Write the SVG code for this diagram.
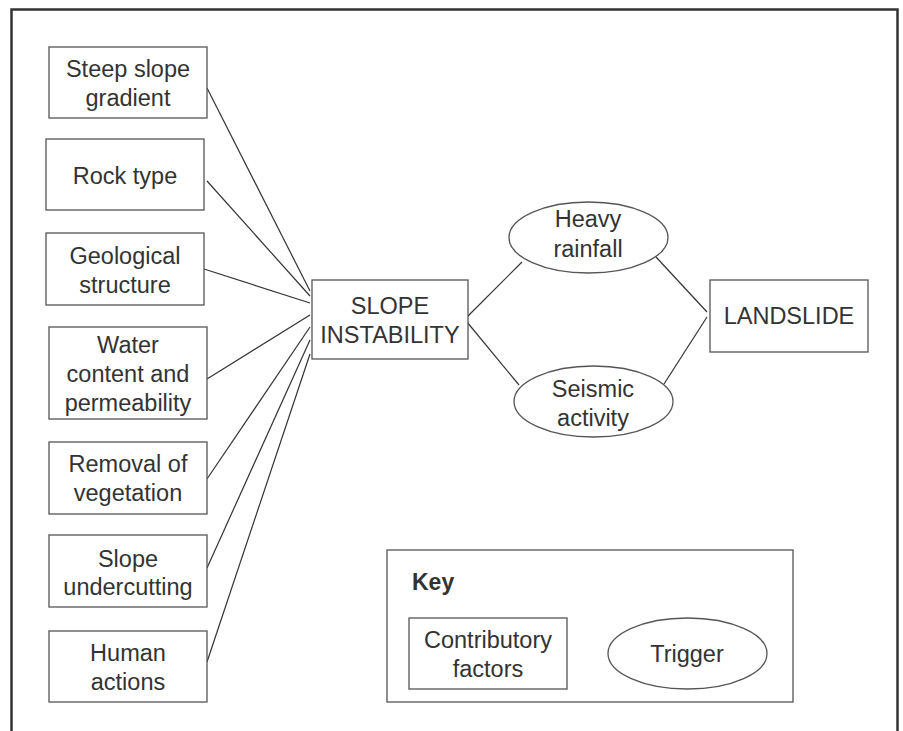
<svg xmlns="http://www.w3.org/2000/svg" width="903" height="731" viewBox="0 0 903 731">
<style>
.box{fill:#fff;stroke:#555;stroke-width:1.3}
.t{font-family:"Liberation Sans",Arial,sans-serif;font-size:23.5px;fill:#333;text-anchor:middle}
.k{font-family:"Liberation Sans",Arial,sans-serif;font-size:23px;font-weight:bold;fill:#333}
.c{stroke:#333;stroke-width:1.2;fill:none}
</style>
<rect width="903" height="731" fill="#fff"/>
<path d="M11.5,731 V9.5 H897.5 V731" fill="none" stroke="#333" stroke-width="2.5"/>
<g id="connectors">
<line class="c" x1="207" y1="88" x2="310" y2="291"/>
<line class="c" x1="207" y1="181" x2="310" y2="296"/>
<line class="c" x1="204" y1="269" x2="310" y2="303"/>
<line class="c" x1="207" y1="379" x2="310" y2="315"/>
<line class="c" x1="207" y1="479" x2="310" y2="327"/>
<line class="c" x1="207" y1="568" x2="310" y2="340"/>
<line class="c" x1="207" y1="662" x2="310" y2="354"/>
<line class="c" x1="467" y1="317" x2="522" y2="262"/>
<line class="c" x1="467" y1="322" x2="519" y2="385"/>
<line class="c" x1="656" y1="257" x2="707" y2="312"/>
<line class="c" x1="664" y1="384" x2="707" y2="317"/>
</g>
<g id="steep">
<rect class="box" x="49" y="47" width="158" height="71"/>
<text class="t" x="128" y="77">Steep slope</text>
<text class="t" x="128" y="106">gradient</text>
</g>
<g id="rock">
<rect class="box" x="46" y="139" width="158" height="71"/>
<text class="t" x="125" y="184">Rock type</text>
</g>
<g id="geological">
<rect class="box" x="46" y="233" width="158" height="72"/>
<text class="t" x="125" y="264">Geological</text>
<text class="t" x="125" y="293">structure</text>
</g>
<g id="water">
<rect class="box" x="49" y="327" width="158" height="92"/>
<text class="t" x="128" y="353">Water</text>
<text class="t" x="128" y="382">content and</text>
<text class="t" x="128" y="411">permeability</text>
</g>
<g id="removal">
<rect class="box" x="49" y="442" width="158" height="72"/>
<text class="t" x="128" y="472">Removal of</text>
<text class="t" x="128" y="501">vegetation</text>
</g>
<g id="undercutting">
<rect class="box" x="49" y="535" width="158" height="72"/>
<text class="t" x="128" y="567">Slope</text>
<text class="t" x="128" y="595">undercutting</text>
</g>
<g id="human">
<rect class="box" x="49" y="631" width="158" height="71"/>
<text class="t" x="128" y="661">Human</text>
<text class="t" x="128" y="690">actions</text>
</g>
<g id="instability">
<rect class="box" x="312" y="280" width="156" height="79"/>
<text class="t" x="390" y="314">SLOPE</text>
<text class="t" x="390" y="343">INSTABILITY</text>
</g>
<g id="rainfall">
<ellipse class="box" cx="588.5" cy="237.5" rx="79.5" ry="35.5"/>
<text class="t" x="588" y="227">Heavy</text>
<text class="t" x="588" y="257">rainfall</text>
</g>
<g id="seismic">
<ellipse class="box" cx="593.5" cy="401.5" rx="79.5" ry="35.5"/>
<text class="t" x="593" y="397">Seismic</text>
<text class="t" x="593" y="426">activity</text>
</g>
<g id="landslide">
<rect class="box" x="710" y="280" width="158" height="72"/>
<text class="t" x="789" y="324">LANDSLIDE</text>
</g>
<g id="key">
<rect class="box" x="387" y="550" width="406" height="152"/>
<text class="k" x="412" y="590">Key</text>
<rect class="box" x="409" y="618" width="158" height="71"/>
<text class="t" x="488" y="648">Contributory</text>
<text class="t" x="488" y="677">factors</text>
<ellipse class="box" cx="687.5" cy="653.5" rx="79.5" ry="35.5"/>
<text class="t" x="687" y="662">Trigger</text>
</g>
</svg>
